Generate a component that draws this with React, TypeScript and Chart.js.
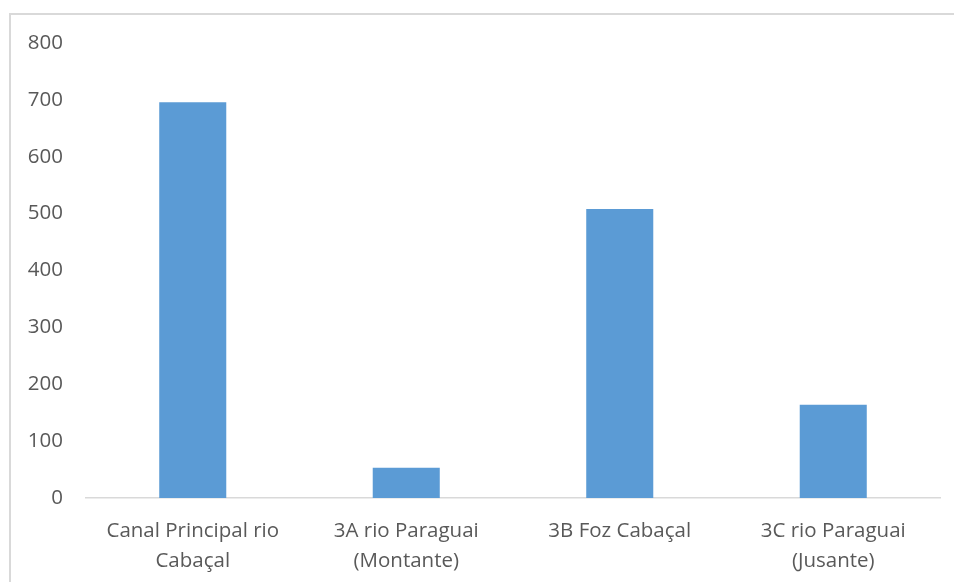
import React, { useEffect, useRef } from "react";
import { Chart, registerables } from "chart.js";

Chart.register(...registerables);

const categories: string[][] = [
  ["Canal Principal rio", "Cabaçal"],
  ["3A rio Paraguai", "(Montante)"],
  ["3B Foz Cabaçal"],
  ["3C rio Paraguai", "(Jusante)"],
];
const values: number[] = [696, 53, 508, 164];
const yMax = 800;
const yStep = 100;

const frame = {
  id: "frame",
  beforeDraw(chart: any) {
    const ctx = chart.ctx;
    ctx.save();
    ctx.fillStyle = "#ffffff";
    ctx.fillRect(0, 0, chart.width, chart.height);
    ctx.strokeStyle = "#d9d9d9";
    ctx.lineWidth = 2;
    ctx.beginPath();
    ctx.moveTo(10, chart.height + 5);
    ctx.lineTo(10, 14);
    ctx.lineTo(chart.width + 5, 14);
    ctx.stroke();
    ctx.restore();
  },
};

export default function App() {
  const ref = useRef<HTMLCanvasElement | null>(null);

  useEffect(() => {
    if (!ref.current) return;
    const chart = new Chart(ref.current, {
      type: "bar",
      data: {
        labels: categories,
        datasets: [
          {
            data: values,
            backgroundColor: "#5b9bd5",
            borderWidth: 0,
            categoryPercentage: 1,
            barPercentage: 0.314,
          },
        ],
      },
      options: {
        animation: false,
        responsive: false,
        maintainAspectRatio: false,
        layout: { padding: { left: 0, right: 14, top: 43, bottom: 0 } },
        plugins: { legend: { display: false }, tooltip: { enabled: false } },
        scales: {
          x: {
            grid: { display: false, drawTicks: false },
            border: { display: true, color: "#d9d9d9", width: 1.5 },
            ticks: {
              color: "#595959",
              font: { family: "'Open Sans', sans-serif", size: 20.5, lineHeight: 1.46 },
              padding: 18,
              maxRotation: 0,
              autoSkip: false,
            },
            afterFit: (s: any) => {
              s.height = 84;
            },
          },
          y: {
            min: 0,
            max: yMax,
            grid: { display: false, drawTicks: false },
            border: { display: false },
            ticks: {
              stepSize: yStep,
              color: "#595959",
              font: { family: "'Open Sans', sans-serif", size: 20.5 },
              padding: 23,
            },
            afterFit: (s: any) => {
              s.width = 86;
            },
          },
        },
      },
      plugins: [frame],
    });
    return () => chart.destroy();
  }, []);

  return (
    <canvas
      ref={ref}
      width={954}
      height={582}
      style={{ position: "fixed", left: 0, top: 0, display: "block" }}
    />
  );
}
